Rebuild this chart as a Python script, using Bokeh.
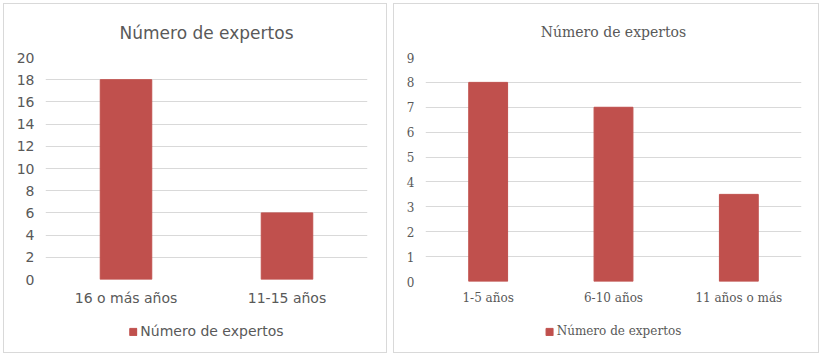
from bokeh.plotting import figure
from bokeh.layouts import row, column
from bokeh.models import (FactorRange, Range1d, FixedTicker, Legend, LegendItem,
                          ColumnDataSource)
from bokeh.embed import file_html
from bokeh.resources import INLINE

# ---- data ----
chart_title = "Número de expertos"
series_name = "Número de expertos"

left_categories = ["16 o más años", "11-15 años"]
left_values = [18, 6]
left_ticks = [0, 2, 4, 6, 8, 10, 12, 14, 16, 18, 20]

right_categories = ["1-5 años", "6-10 años", "11 años o más"]
right_values = [8, 7, 3.5]
right_ticks = [0, 1, 2, 3, 4, 5, 6, 7, 8, 9]

BAR = "#C0504D"
GRID = "#D9D9D9"
TEXT = "#595959"
BORDER = "#D9D9D9"


def make_panel(cats, vals, ticks, width, font, title_size, label_size, tick_size,
               legend_size, bar_width, border_left, border_right, border_bottom,
               title_standoff, label_standoff):
    main_h = 306
    leg_h = 42
    src = ColumnDataSource(dict(x=cats, top=vals))
    p = figure(x_range=FactorRange(*cats), y_range=Range1d(ticks[0], ticks[-1]),
               width=width, height=main_h, output_backend="svg", toolbar_location=None,
               min_border_left=border_left, min_border_right=border_right,
               min_border_top=53, min_border_bottom=border_bottom)
    p.background_fill_color = "white"
    p.border_fill_color = "white"
    p.outline_line_color = None

    p.vbar(x="x", top="top", width=bar_width, source=src,
           fill_color=BAR, line_color=BAR)

    p.title.text = chart_title
    p.title.align = "center"
    p.title.text_font = font
    p.title.text_font_size = title_size
    p.title.text_font_style = "normal"
    p.title.text_color = TEXT
    p.title.standoff = title_standoff

    p.xgrid.grid_line_color = None
    p.ygrid.grid_line_color = GRID
    p.ygrid.grid_line_width = 1
    p.yaxis.ticker = FixedTicker(ticks=ticks)
    p.ygrid.ticker = FixedTicker(ticks=ticks)

    for ax in (p.xaxis[0], p.yaxis[0]):
        ax.axis_line_color = None
        ax.major_tick_line_color = None
        ax.minor_tick_line_color = None
        ax.major_label_text_font = font
        ax.major_label_text_color = TEXT
    p.xaxis.major_label_text_font_size = label_size
    p.yaxis.major_label_text_font_size = tick_size
    p.xaxis.major_label_standoff = label_standoff
    p.yaxis.major_label_standoff = 5

    # legend strip below the chart; its key renderer shares the series data
    # but is hidden, so only the legend swatch is drawn
    pl = figure(width=width, height=leg_h, output_backend="svg", toolbar_location=None,
                x_range=FactorRange(*cats), y_range=Range1d(-2, -1),
                x_axis_location=None, y_axis_location=None,
                min_border=0, min_border_left=0, min_border_right=0,
                min_border_top=0, min_border_bottom=0)
    pl.outline_line_color = None
    pl.background_fill_color = "white"
    pl.border_fill_color = "white"
    pl.xgrid.visible = False
    pl.ygrid.visible = False
    key = pl.vbar(x="x", top="top", width=bar_width, source=src,
                  fill_color=BAR, line_color=BAR)
    key.visible = False
    legend = Legend(items=[LegendItem(label=series_name, renderers=[key])],
                    location="center", orientation="horizontal",
                    glyph_width=9, glyph_height=9, label_standoff=3,
                    label_text_font=font, label_text_font_size=legend_size,
                    label_text_color=TEXT, border_line_color=None,
                    background_fill_alpha=0, padding=0, margin=0,
                    inactive_fill_alpha=0)
    pl.add_layout(legend, "center")

    box = column(p, pl, spacing=0, styles={"border": "1px solid " + BORDER})
    return box


p1 = make_panel(left_categories, left_values, left_ticks, 382, "DejaVu Sans",
                "17px", "14px", "14px", "14px", 0.32, 41, 19, 31, 30, 4)
p2 = make_panel(right_categories, right_values, right_ticks, 424, "DejaVu Serif",
                "14px", "12px", "12px", "12px", 0.31, 31, 17, 29, 35, 3)

layout = row(p1, p2, spacing=6, margin=(3, 0, 0, 3))
open("out.html", "w").write(file_html(layout, INLINE))
